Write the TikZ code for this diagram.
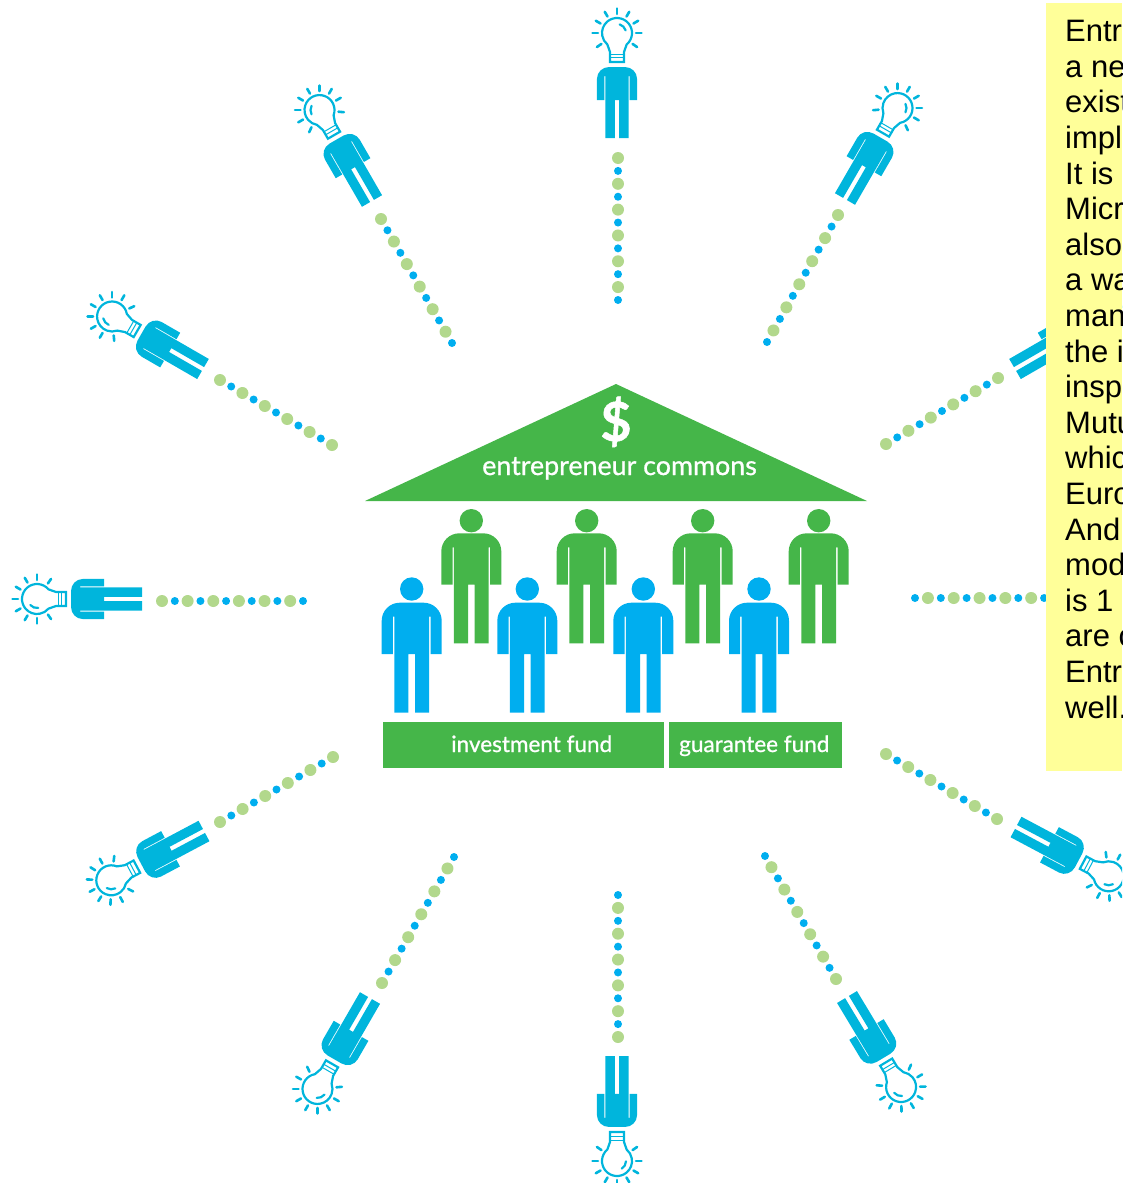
\documentclass[tikz,border=0pt]{standalone}
\usepackage{fontspec}
\setmainfont{Liberation Sans}
\newfontfamily\signfont[FakeBold=0.9]{Lato}
\usetikzlibrary{calc}
\definecolor{fundgreen}{HTML}{45B649}
\definecolor{crowdblue}{HTML}{00AEEF}
\definecolor{thinkerblue}{HTML}{00B5DC}
\definecolor{dotgreen}{HTML}{B2D88C}
\definecolor{dotblue}{HTML}{00AEEF}
\definecolor{notecolor}{HTML}{FFFF99}
\newcommand{\figurepath}{(-17.4,0) -- (-3.3,0) -- (-3.3,58.7) -- (3.3,58.7) -- (3.3,0) -- (17.4,0)
      -- (17.4,58.7) -- (17.4,96) -- (18.8,96) -- (18.8,58.7) -- (30,58.7) -- (30,92)
      arc[start angle=0, end angle=90, radius=18] -- (-12,110)
      arc[start angle=90, end angle=180, radius=18] -- (-30,58.7) -- (-18.8,58.7)
      -- (-18.8,96) -- (-17.4,96) -- cycle}
\tikzset{
  signtext/.style={text=white, inner sep=0pt, anchor=base, font=\signfont\fontsize{#1}{#1}\selectfont},
  thinker/.pic={
    \fill[thinkerblue, xscale=.667, yscale=.645] \figurepath;
    \begin{scope}[thinkerblue, line width=2.2pt, line cap=round]
      \draw (0,105) ++(-50:15) arc[start angle=-50, end angle=230, radius=15]
        -- (-7,86) -- (-7,76) -- (7,76) -- (7,86) -- cycle;
      \draw[line width=1pt] (-7,84) -- (7,84) (-7,80.5) -- (7,80.5);
      \draw (0,105) ++(#1-28:9) arc[start angle=#1-28, end angle=#1+28, radius=9];
      \foreach \rayangle in {0,30,60,90,120,150,180,215,-35}
        \draw[line width=2.6pt] (0,105) ++(\rayangle:19) -- ++(\rayangle:5.5);
    \end{scope}
  }
}
\begin{document}
\begin{tikzpicture}[x=1pt, y=1pt]
  \useasboundingbox (0,0) rectangle (1122,-1183);
  \clip (0,0) rectangle (1122,-1183);

  % spokes: outer end, inner end, last dot index
  \foreach \spoke/\outx/\outy/\inx/\iny/\last in {
      a/618/-158/618/-300/11, b/838/-215/767/-342/11, c/998/-378/886/-444/10,
      d/1057/-598/915/-598/11, e/997/-819/886/-754/10, f/836/-979/765/-856/11,
      g/618/-1037/618/-895/11, h/382/-983/454/-857/11, i/220/-822/333/-757/10,
      j/162/-601/303/-601/11, k/220/-380/332/-445/10, l/381/-219/452/-343/11} {
    \coordinate (out\spoke) at (\outx,\outy);
    \coordinate (in\spoke) at (\inx,\iny);
    \foreach \k in {0,2,...,\last}
      \fill[dotgreen] ($(out\spoke)!\k/\last!(in\spoke)$) circle[radius=6];
    \foreach \k in {1,3,...,\last}
      \fill[dotblue] ($(out\spoke)!\k/\last!(in\spoke)$) circle[radius=4];
  }

  % feet position, turn, highlight in the bulb
  \foreach \fx/\fy/\turn/\glint in {
      617/-138/0/45, 845/-199/-30/30, 1015/-369/-60/30, 1016/-827/-118/28,
      847/-997/-149/37, 617/-1056/180/150, 370/-998/150/143, 204/-831/118/150,
      142/-599/90/160, 203/-369/60/160, 372/-201/30/150}
    \pic[rotate=\turn] at (\fx,\fy) {thinker=\glint};

  \fill[fundgreen] (365,-501) -- (616,-384) -- (867,-501) -- cycle;
  \node[signtext=54] (dollar) at (616,-441) {\bfseries\$};
  \node[signtext=26.8] (commons) at (619.5,-475) {entrepreneur commons};

  \foreach \px in {471.3,586.7,702.7,818.7} {
    \fill[fundgreen, shift={(\px,-643.3)}] \figurepath;
    \fill[fundgreen] (\px,-520.7) circle[radius=11.7];
  }
  \foreach \px in {411.7,527.3,643.3,759} {
    \fill[crowdblue, shift={(\px,-712.7)}] \figurepath;
    \fill[crowdblue] (\px,-589) circle[radius=11.7];
  }

  \fill[fundgreen] (383.3,-721.7) rectangle (664.3,-767.7);
  \fill[fundgreen] (668.7,-721.7) rectangle (842.3,-767.7);
  \node[signtext=22.5] (invest) at (531.7,-752) {investment fund};
  \node[signtext=22.5] (guarantee) at (754.3,-752) {guarantee fund};

  \fill[notecolor] (1045.5,-3) rectangle (1122,-771);
  \foreach \noteline [count=\n from 0] in {Entr,a ne,exist,impl,It is,Micr,also,a wa,man,the i,insp,Mutu,whic,Euro,And,mod,is 1,are c,Entr,well.}
    \node[anchor=base west, inner sep=0pt, font=\fontsize{31}{31}\selectfont] (note\n) at (1065,-41.7-35.6*\n) {\noteline};
\end{tikzpicture}
\end{document}
